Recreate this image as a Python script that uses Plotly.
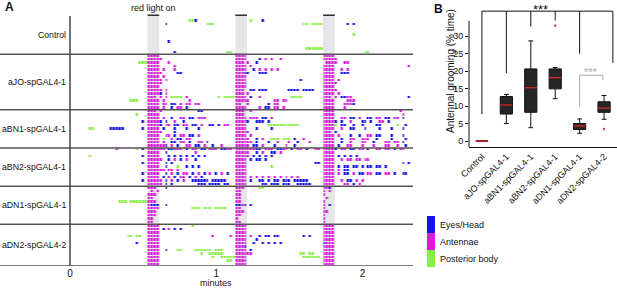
import re
import plotly.graph_objects as go

# ---------------- Panel A data (ethogram, bins of 0.02 min; token = <start bin><code><n bins>) ----
BIN = 0.02
NBINS = 118
CODES = {"e": 1, "a": 2, "p": 3}   # e = Eyes/Head, a = Antennae, p = Posterior body
LIGHT_ON = [0.53, 1.13, 1.73]       # minutes
LIGHT_DUR = 0.08

GROUPS = ["Control", "aJO-spGAL4-1", "aBN1-spGAL4-1", "aBN2-spGAL4-1", "aDN1-spGAL4-1", "aDN2-spGAL4-2"]

CONTROL = [
    "", "41p2 43e1 62p1 66e1", "33e1 47p3 80p2 83p4 95e1 97e1", "", "", "97p1", "", "34e1", "",
    "81p3 84p3", "36e1 54p2 101p2",
]
AJO = [
    "27a4 57a4 87a4",
    "27a5 57a4 65e1 67a1 69a1 72a1 87a5",
    "24p3 27a4 34a1 57a3 61a1 64e1 88a4 94a2",
    "27a4 36a1 57a4 62a1 87a4 116a1",
    "27a4 32a1 36a1 57a4 63e1 65a1 67a1 69a1 71a1 87a4 93a1 95a1",
    "27a4 31a1 37e2 57a3 60e2 65e3 87a4 93e3",
    "27a4 32a1 57a4 87a4",
    "27a5 33a1 57a4 79e1 87a4 92a1",
    "27a4 31a1 57a4 87a4 91a1",
    "27a4 57a4 87a4",
    "27a5 33a1 57a3 62e2 65e3 75e4 80e4 87a4 91a1",
    "27a4 31e1 33a1 57a3 61a1 87a4 92a1",
    "27a3 31a1 33a1 35p4 40a1 51p1 53p4 57a4 62e1 65a1 76p4 87a3 91a1 93e2 95a2 116e1",
    "21p3 27a4 32a1 41a1 57a5 70a2 73a2 87a4 95a3",
    "27a3 30a1 32a2 35e2 38a1 40a2 43a2 57a2 61a1 68e1 70a2 87a4 94a3 97e1",
    "27a4 32a1 35e1 37a2 40e1 57a4 65a1 67e2 70a2 73a1 87a4 94a1",
]
ABN1 = [
    "27a3 31a1 44e2 57a3 62a1 87a4 113a1",
    "23p1 27a4 57a3 87a4 114a1",
    "27a4 32a1 35e1 38a2 41e2 44a3 57a4 62a3 66e2 69a1 87a4 93a2 96e2 99a1 102e2 105a2 108e2 111a2 114e1",
    "25e1 27a4 31e1 33e1 36a1 39e1 57a4 61e1 64e3 68e1 87a4 91e1 93e1 96a1 100e2 103e1 106a2 109e1",
    "27a4 31e1 33a2 36e2 39a2 42e2 45a1 48e2 51e1 53a2 57a4 68p4 72p5 77p2 87a4 91p1 93e2 97e1 100e1 105e2 112p1 115e1",
    "7p2 14e5 25e1 27a4 32e1 36e1 40e1 44e1 57a4 64e1 69e1 87a4 93a1 96e2 101e1 106e1 110e1 114e1",
    "27a4 31a1 36e1 57a4 61a1 87a3 91e1",
    "27a4 33a2 36e1 38a2 41e2 44a1 57a4 62a1 87a4 92a1 96e1 99e1 102a2 105e2 110e1 114e1",
    "27a4 32p1 35a1 37e2 40a2 57a5 64e1 66a1 69p3 73p3 77e1 80a1 87a4 93e1 96a2 100a3 105e1 110e1 115e1",
    "27a4 32a1 35e2 38a2 41e1 44a2 47e1 57a4 61a2 64e1 68e1 71a1 75a1 78e1 82a1 87a4 93e1 96a1 100a2 104e1 108a2 111a2 114e1",
    "27a4 31a2 33e1 35a1 37e1 40a2 43e2 46a1 49e1 52a1 57a4 61a1 63e2 66a1 70e1 74a1 77e1 87a4 92e1 95a2 100a1 104a1 108a2 112a1 115e1",
]
ABN2 = [
    "16a1 23p1 25e1 27a4 31a2 34e2 36a3 40e1 42a2 45e2 48a3 52e2 54a2 57a4 61a3 64e2 67a3 71e2 73a2 76e1 78a2 81e1 84a2 87a4 91e1 93a2 96e2 99a2 102e1 105a2 108a2 111e1 113a2",
    "27a4 33e1 43a1 57a4 61a1 64e1 66a1 69e2 72a1 87a4",
    "7p1 25e1 27a4 34e1 36e1 38e1 40e1 42e1 44e1 46e1 57a5 63e1 65e1 67e1 69e1 87a4 92e1 94e1 96e1 98e1",
    "27a4 31a1 34e1 36a1 38e1 40a1 43e1 57a4 62e1 64e2 67e1 87a4 93a1 95a2 98a2 101a2",
    "25e1 27a4 33e1 35e1 57a4 84e2 87a4 114e1 116e1",
    "27a4 33e1 37p1 40e1 42e1 44e1 57a4 69p1 87a4 92e1 94e2 97e2 100e1 102e2 105e2 108e1",
    "27a4 31a2 34a2 37a1 57a4 87a4 92a1 94e2",
    "25e1 27a4 33e1 35a1 37e1 39a2 42e1 44a1 46e1 48a1 50e1 52a1 54e1 57a4 87a4 92a1 94e2 97a1 99e2 102a2 105e2 108a2 111e1 114e2",
    "27a4 32e1 34a1 36e1 38a2 41e1 43a1 45e1 57a4 62a1 64a1 66a1 68a1 70a1 72a1 74a1 76a1 78a1 87a4",
    "25e1 27a5 33e1 35a1 37e1 39a1 42e6 49e5 57a4 62e1 65e2 68e1 70e2 73e3 77e3 80e2 87a4 93a1 95e2 98a1 100a1",
    "27a4 31a1 33e1 35e1 44e3 48e4 53e2 57a4 66e2 69e3 73e3 78e4 82e1 87a4 94a2 97e1 99a1",
]
ADN1 = [
    "27a3 33e1 57a3 65p2 87a2 89e1",
    "28a1 30a1 57a2 87a1 89a1",
    "27a3 57a2 87a1",
    "27a2 57a2 88a1",
    "17p3 21p3 24p3 27a3 57a2 87a1",
    "27a1 28e2 30e1 33e1 57e2 59a1 60e1 62e1 87a1 89e1",
    "27a4 42p3 46p3 50p4 57a2 87a1",
    "27a3 57a3 87a2",
    "27a3 57a2 87a1",
    "27a2 57a1 87a1",
    "27a2 57a2 87a1",
]
ADN2 = [
    "27a4 42p1 57a4 87a4",
    "27a4 32e1 34a1 36e1 38e1 57a4 87a4",
    "27a4 57a4 87a4",
    "20p2 23p2 27a4 49a1 55a1 57a4 62a1 65e1 67e2 70e2 80e1 82e1 87a4",
    "27a4 57a4 64e1 87a4",
    "23e1 27a4 57a4 63e1 66e1 68e1 70e1 72e1 87e1 88a3",
    "27a4 57a3 60e1 87a4",
    "27a4 33e1 37p2 43p3 46p3 50p3 57a4 62e1 87a4",
    "27a4 45p1 48p3 51p2 57a5 62a1 79p2 82p2 87a4",
    "27a4 49p1 52p3 55p2 57a4 80p3 83p3 87a4",
    "27a4 54p2 57a4 87a4",
    "27a4 57a4 87a4",
]
ETHOGRAM = [CONTROL, AJO, ABN1, ABN2, ADN1, ADN2]

# ---------------- Panel B data (box plot, % time) ----------------
Q1 = [0, 7.7, 8.2, 14.9, 3.3, 8.2]
MEDIAN = [0, 10.3, 15.2, 18.1, 4.3, 9.4]
Q3 = [0, 12.7, 20.6, 20.6, 5.0, 11.2]
LOW = [0, 5.0, 3.8, 12.1, 2.2, 6.2]
HIGH = [0, 13.3, 28.6, 21.0, 6.3, 13.0]
OUT_X = [3, 5]
OUT_Y = [32.9, 3.4]
SIG_TOP = 37.1
SIG_DROP_X = [0, 1, 2, 3, 4, 5.36]
SIG_DROP_Y = [7.7, 19.4, 32.7, 34.4, 24.9, 22.3]
SIG2_TOP = 18.8
SIG2_X = [4, 4.95]
SIG2_Y = [9.8, 17.4]

BLUE, MAG, GREEN = "#1414e6", "#dd19dd", "#88ee44"
FONT = "Liberation Sans, Arial, sans-serif"
W, H = 617, 288

# ---- build ethogram matrix
Z = []
for grp in ETHOGRAM:
    for row in grp:
        r = [None] * NBINS
        for tok in row.split():
            m = re.fullmatch(r"(\d+)([aep])(\d+)", tok)
            s, c, n = int(m.group(1)), m.group(2), int(m.group(3))
            for k in range(s, min(s + n, NBINS)):
                r[k] = CODES[c]
        Z.append(r)
NROWS = len(Z)
XC = [k * BIN for k in range(NBINS)]

fig = go.Figure()
fig.add_trace(go.Heatmap(
    z=Z, x=XC, y=list(range(NROWS)), xaxis="x", yaxis="y",
    colorscale=[[0, BLUE], [1/3, BLUE], [1/3, MAG], [2/3, MAG], [2/3, GREEN], [1, GREEN]],
    zmin=0.5, zmax=3.5, showscale=False, xgap=0.6, ygap=1, hoverinfo="skip"))

shapes = []
annotations = []
row_px = 250 / NROWS
head = -0.5 - 3 / row_px
TXT = dict(family=FONT, color="#111")
for on in LIGHT_ON:
    shapes.append(dict(type="rect", xref="x", yref="y", x0=on, x1=on + LIGHT_DUR, y0=-0.5, y1=NROWS - 0.5,
                       fillcolor="#e6e6e6", line_width=0, layer="below"))
    shapes.append(dict(type="rect", xref="x", yref="y", x0=on, x1=on + LIGHT_DUR, y0=-0.95, y1=-0.5,
                       fillcolor="#333333", line_width=0))
annotations.append(dict(text="red light on", x=LIGHT_ON[0] + LIGHT_DUR / 2, xref="x", y=1 - 8 / H, yref="paper",
                        showarrow=False, font=dict(size=9, **TXT), xanchor="center", yanchor="middle"))
start = 0
for g, grp in zip(GROUPS, ETHOGRAM):
    end = start + len(grp)
    shapes.append(dict(type="line", xref="x domain", yref="y", x0=0, x1=1, y0=end - 0.5, y1=end - 0.5,
                       line=dict(color="#555555", width=1.5)))
    annotations.append(dict(text=g, xref="paper", x=68 / W, y=(start + end - 1) / 2, yref="y", xanchor="right",
                            yanchor="middle", showarrow=False, font=dict(size=8.7, **TXT)))
    start = end
shapes.append(dict(type="line", xref="x", yref="y", x0=0, x1=0, y0=-0.5, y1=NROWS - 0.5,
                   line=dict(color="#444444", width=1.5)))
annotations.append(dict(text="minutes", x=1, xref="x", y=1 - 283 / H, yref="paper", showarrow=False,
                        xanchor="center", yanchor="middle", font=dict(size=9, **TXT)))
annotations.append(dict(text="<b>A</b>", xref="paper", yref="paper", x=9 / W, y=1 - 7 / H, showarrow=False,
                        xanchor="center", yanchor="middle", font=dict(size=12, **TXT)))
annotations.append(dict(text="<b>B</b>", xref="paper", yref="paper", x=438 / W, y=1 - 9 / H, showarrow=False,
                        xanchor="center", yanchor="middle", font=dict(size=12, **TXT)))

# legend
for i, (lab, col) in enumerate([("Eyes/Head", BLUE), ("Antennae", MAG), ("Posterior body", GREEN)]):
    y0 = 216 + i * 17
    shapes.append(dict(type="rect", xref="paper", yref="paper", x0=427 / W, x1=435 / W,
                       y0=1 - (y0 + 17) / H, y1=1 - y0 / H, fillcolor=col, line_width=0))
    annotations.append(dict(text=lab, xref="paper", yref="paper", x=438 / W, y=1 - (y0 + 8.5) / H, xanchor="left",
                            yanchor="middle", showarrow=False, font=dict(size=9, **TXT)))

# ---------------- Panel B ----------------
XI = list(range(len(GROUPS)))
fig.add_trace(go.Box(x=XI, q1=Q1, median=MEDIAN, q3=Q3, lowerfence=LOW, upperfence=HIGH,
                     xaxis="x2", yaxis="y2", width=0.5, fillcolor="#262626",
                     line=dict(color="#111111", width=1), whiskerwidth=0.4, boxpoints=False, hoverinfo="skip"))
mx, my = [], []
for i, m in zip(XI, MEDIAN):
    mx += [i - 0.25, i + 0.25, None]
    my += [m, m, None]
fig.add_trace(go.Scatter(x=mx, y=my, mode="lines", line=dict(color="#e02828", width=1.3),
                         xaxis="x2", yaxis="y2", hoverinfo="skip"))
fig.add_trace(go.Scatter(x=OUT_X, y=OUT_Y, mode="markers", marker=dict(color="#e04040", size=2.5),
                         xaxis="x2", yaxis="y2", hoverinfo="skip"))
bx, by = [SIG_DROP_X[0], SIG_DROP_X[-1], None], [SIG_TOP, SIG_TOP, None]
for x, y in zip(SIG_DROP_X, SIG_DROP_Y):
    bx += [x, x, None]
    by += [SIG_TOP, y, None]
fig.add_trace(go.Scatter(x=bx, y=by, mode="lines", line=dict(color="#111", width=1), xaxis="x2", yaxis="y2",
                         hoverinfo="skip", cliponaxis=False))
gx = [SIG2_X[0], SIG2_X[0], SIG2_X[1], SIG2_X[1]]
gy = [SIG2_Y[0], SIG2_TOP, SIG2_TOP, SIG2_Y[1]]
fig.add_trace(go.Scatter(x=gx, y=gy, mode="lines", line=dict(color="#aaaaaa", width=1), xaxis="x2", yaxis="y2",
                         hoverinfo="skip"))
annotations.append(dict(text="***", x=2.38, xref="x2", y=1, yref="paper", yanchor="top", xanchor="center",
                        showarrow=False, font=dict(size=13, **TXT)))
annotations.append(dict(text="***", x=(SIG2_X[0] + SIG2_X[1]) / 2, xref="x2", y=SIG2_TOP + 0.9, yref="y2",
                        yanchor="middle", xanchor="center", showarrow=False,
                        font=dict(size=11, family=FONT, color="#aaaaaa")))
shapes.append(dict(type="line", xref="x2 domain", yref="y2", x0=0, x1=0, y0=-1.714, y1=34.3,
                   line=dict(color="#111", width=1)))
annotations.append(dict(text="Antennal grooming (% time)", xref="paper", yref="paper", x=450 / W, y=1 - 71 / H,
                        xanchor="center", yanchor="middle", textangle=-90, showarrow=False,
                        font=dict(size=10, **TXT)))

fig.update_layout(
    width=W, height=H, margin=dict(l=0, r=0, t=0, b=0),
    paper_bgcolor="white", plot_bgcolor="white", showlegend=False,
    font=dict(family=FONT, color="#111"),
    xaxis=dict(domain=[0, 413 / W], range=[-70 / 146.3, 343 / 146.3], tickvals=[0, 1, 2], ticktext=["0", "1", "2"],
               showgrid=False, zeroline=False, showline=False, ticks="", tickfont=dict(size=10), automargin=False,
               anchor="y"),
    yaxis=dict(domain=[1 - 266 / H, 1 - 13 / H], range=[NROWS - 0.5, head], visible=False, automargin=False,
               anchor="x"),
    xaxis2=dict(domain=[469 / W, 1], range=[-0.53, 5.53], tickvals=XI, ticktext=GROUPS, tickangle=-45,
                showgrid=False, zeroline=False, showline=True, linecolor="#111", linewidth=1, ticks="",
                tickfont=dict(size=9), automargin=False, anchor="y2"),
    yaxis2=dict(domain=[1 - 147 / H, 1], range=[-1.714, 40.29], tickvals=[0, 5, 10, 15, 20, 25, 30],
                showgrid=False, zeroline=False, showline=False, ticks="outside", ticklen=3, tickcolor="#111",
                tickfont=dict(size=9), automargin=False, anchor="x2"),
    shapes=shapes, annotations=annotations,
)
fig.write_html("out.html", config={"displayModeBar": False},
               post_script="document.body.style.margin='0px';document.body.style.overflow='hidden';")
